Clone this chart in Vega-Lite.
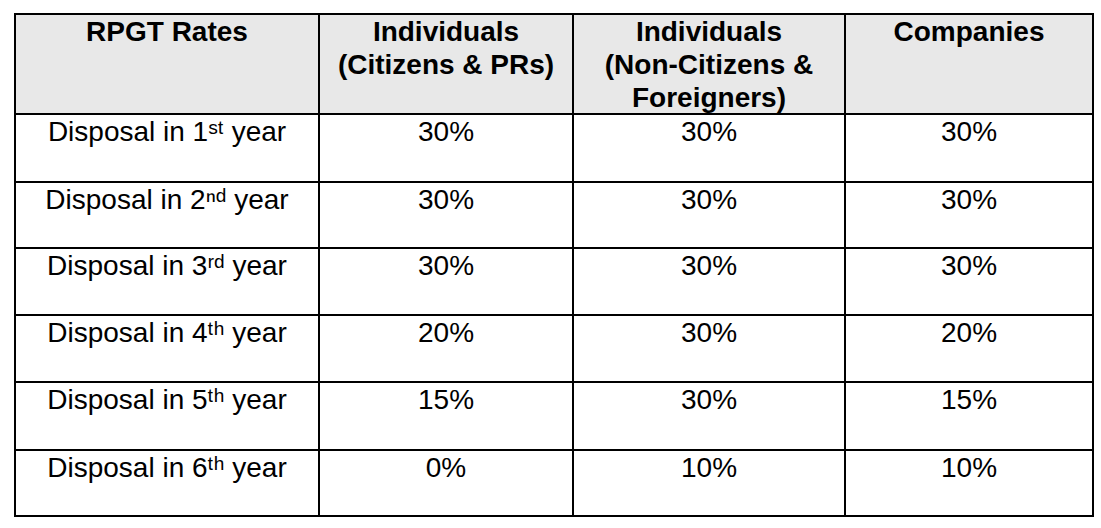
{
  "$schema": "https://vega.github.io/schema/vega-lite/v6.json",
  "width": 1101,
  "height": 528,
  "padding": 0,
  "autosize": "none",
  "background": "white",
  "config": {
    "view": {"stroke": null},
    "text": {"font": "Liberation Sans", "fontSize": 28, "color": "black", "baseline": "alphabetic", "align": "center"}
  },
  "datasets": {
    "vlines": [{"col": 0}, {"col": 1}, {"col": 2}, {"col": 3}, {"col": 4}],
    "hlines": [{"row": 0}, {"row": 1}, {"row": 2}, {"row": 3}, {"row": 4}, {"row": 5}, {"row": 6}, {"row": 7}],
    "header": [
      {"col": 0, "text": "RPGT Rates"},
      {"col": 1, "text": "Individuals\n(Citizens & PRs)"},
      {"col": 2, "text": "Individuals\n(Non-Citizens &\nForeigners)"},
      {"col": 3, "text": "Companies"}
    ],
    "body": [
      {"row": 1, "col": 0, "text": "Disposal in 1ˢᵗ year"},
      {"row": 1, "col": 1, "text": "30%"},
      {"row": 1, "col": 2, "text": "30%"},
      {"row": 1, "col": 3, "text": "30%"},
      {"row": 2, "col": 0, "text": "Disposal in 2ⁿᵈ year"},
      {"row": 2, "col": 1, "text": "30%"},
      {"row": 2, "col": 2, "text": "30%"},
      {"row": 2, "col": 3, "text": "30%"},
      {"row": 3, "col": 0, "text": "Disposal in 3ʳᵈ year"},
      {"row": 3, "col": 1, "text": "30%"},
      {"row": 3, "col": 2, "text": "30%"},
      {"row": 3, "col": 3, "text": "30%"},
      {"row": 4, "col": 0, "text": "Disposal in 4ᵗʰ year"},
      {"row": 4, "col": 1, "text": "20%"},
      {"row": 4, "col": 2, "text": "30%"},
      {"row": 4, "col": 3, "text": "20%"},
      {"row": 5, "col": 0, "text": "Disposal in 5ᵗʰ year"},
      {"row": 5, "col": 1, "text": "15%"},
      {"row": 5, "col": 2, "text": "30%"},
      {"row": 5, "col": 3, "text": "15%"},
      {"row": 6, "col": 0, "text": "Disposal in 6ᵗʰ year"},
      {"row": 6, "col": 1, "text": "0%"},
      {"row": 6, "col": 2, "text": "10%"},
      {"row": 6, "col": 3, "text": "10%"}
    ]
  },
  "layer": [
    {
      "layer": [
        {
          "data": {"values": [{"part": "header"}]},
          "mark": {"type": "rect", "fill": "#e8e8e8"},
          "encoding": {
            "x": {"datum": 0, "type": "quantitative", "axis": null,
                  "scale": {"domain": [0, 1, 2, 3, 4], "range": [15, 319, 573, 845, 1093], "zero": false, "nice": false}},
            "x2": {"datum": 4},
            "y": {"datum": 0, "type": "quantitative", "axis": null,
                  "scale": {"domain": [0, 1, 2, 3, 4, 5, 6, 7], "range": [14, 114, 182, 248, 315, 382, 450, 516], "zero": false, "nice": false}},
            "y2": {"datum": 1}
          }
        },
        {
          "data": {"name": "vlines"},
          "mark": {"type": "rule", "color": "black", "strokeWidth": 2, "strokeCap": "square"},
          "encoding": {
            "x": {"field": "col", "type": "quantitative", "axis": null,
                  "scale": {"domain": [0, 1, 2, 3, 4], "range": [15, 319, 573, 845, 1093], "zero": false, "nice": false}},
            "y": {"datum": 0, "type": "quantitative", "axis": null,
                  "scale": {"domain": [0, 1, 2, 3, 4, 5, 6, 7], "range": [14, 114, 182, 248, 315, 382, 450, 516], "zero": false, "nice": false}},
            "y2": {"datum": 7}
          }
        },
        {
          "data": {"name": "hlines"},
          "mark": {"type": "rule", "color": "black", "strokeWidth": 2, "strokeCap": "square"},
          "encoding": {
            "y": {"field": "row", "type": "quantitative", "axis": null,
                  "scale": {"domain": [0, 1, 2, 3, 4, 5, 6, 7], "range": [14, 114, 182, 248, 315, 382, 450, 516], "zero": false, "nice": false}},
            "x": {"datum": 0, "type": "quantitative", "axis": null,
                  "scale": {"domain": [0, 1, 2, 3, 4], "range": [15, 319, 573, 845, 1093], "zero": false, "nice": false}},
            "x2": {"datum": 4}
          }
        }
      ]
    },
    {
      "layer": [
        {
          "data": {"name": "header"},
          "mark": {"type": "text", "fontWeight": "bold", "lineBreak": "\n", "lineHeight": 33},
          "encoding": {
            "x": {"field": "col", "type": "quantitative", "axis": null,
                  "scale": {"domain": [0, 1, 2, 3], "range": [167, 446, 709, 969], "zero": false, "nice": false}},
            "y": {"datum": 0, "type": "quantitative", "axis": null,
                  "scale": {"domain": [0, 1, 2, 3, 4, 5, 6], "range": [41, 141, 209, 275, 342, 409, 477], "zero": false, "nice": false}},
            "text": {"field": "text", "type": "nominal"}
          }
        },
        {
          "data": {"name": "body"},
          "mark": {"type": "text"},
          "encoding": {
            "x": {"field": "col", "type": "quantitative", "axis": null,
                  "scale": {"domain": [0, 1, 2, 3], "range": [167, 446, 709, 969], "zero": false, "nice": false}},
            "y": {"field": "row", "type": "quantitative", "axis": null,
                  "scale": {"domain": [0, 1, 2, 3, 4, 5, 6], "range": [41, 141, 209, 275, 342, 409, 477], "zero": false, "nice": false}},
            "text": {"field": "text", "type": "nominal"}
          }
        }
      ]
    }
  ],
  "resolve": {"scale": {"x": "independent", "y": "independent"}}
}
